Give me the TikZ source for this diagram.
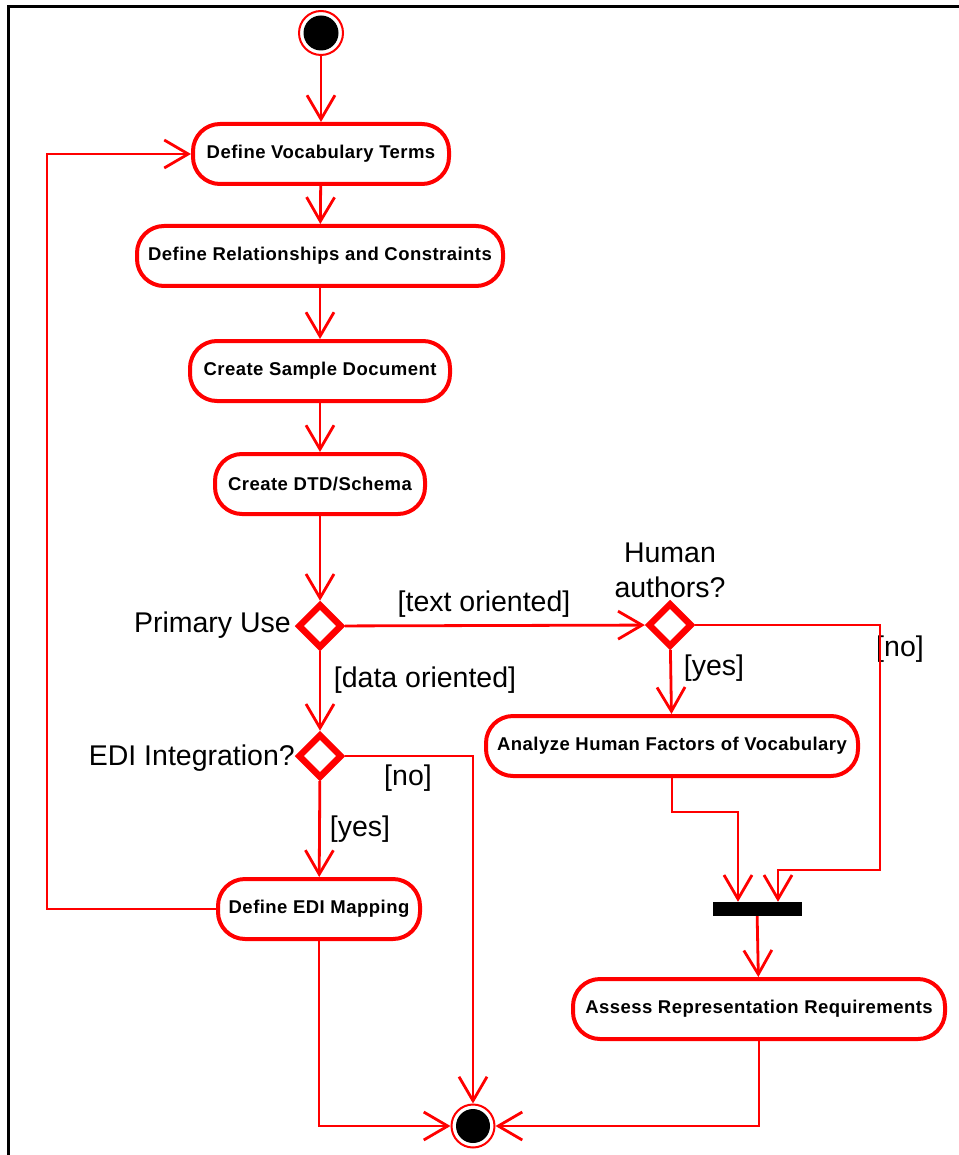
\documentclass[tikz,border=0pt]{standalone}
\usepackage{fontspec}
\setmainfont{Liberation Sans}
\newfontfamily\actfont[LetterSpace=2.5]{Liberation Sans}
\usetikzlibrary{arrows.meta,shapes.geometric,calc}
\definecolor{umlred}{RGB}{255,0,0}
\tikzset{
  action/.style={draw=umlred, line width=4pt, rounded corners=27pt, fill=white,
    inner sep=0pt, minimum height=60pt, font=\actfont\bfseries\fontsize{18.5}{21}\selectfont},
  decision/.style={diamond, draw=umlred, line width=6.5pt, fill=white, inner sep=0pt,
    minimum width=44pt, minimum height=44pt},
  conn/.style={draw=umlred, line width=2.8pt},
  arr/.style={conn, -{Straight Barb[length=24pt,width=28pt,line width=2.8pt]}},
  lbl/.style={font=\fontsize{28.5}{35}\selectfont, inner sep=0pt},
}
\begin{document}
\begin{tikzpicture}[x=1pt,y=-1pt]
\useasboundingbox (0,0) rectangle (958,1155);
\draw[black, line width=3pt] (8,1160) -- (8,7) -- (965,7);

% start
\node[circle, draw=umlred, line width=2pt, fill=white, minimum size=44pt, inner sep=0pt] (startring) at (321,33) {};
\node[circle, fill=black, minimum size=35pt, inner sep=0pt] (start) at (321,33) {};

% actions
\node[action, minimum width=256pt] (vocab) at (321,154) {Define Vocabulary Terms};
\node[action, minimum width=366pt] (rel) at (320,256) {Define Relationships and Constraints};
\node[action, minimum width=260pt] (sample) at (320,371) {Create Sample Document};
\node[action, minimum width=210pt] (dtd) at (320,484) {Create DTD/Schema};
\node[action, minimum width=372pt] (analyze) at (672,746) {Analyze Human Factors of Vocabulary};
\node[action, minimum width=202pt] (edi) at (319,909) {Define EDI Mapping};
\node[action, minimum width=372pt] (assess) at (759,1009) {Assess Representation Requirements};

% decisions
\node[decision] (d1) at (320,626) {};
\node[decision] (d2) at (670,625) {};
\node[decision] (d3) at (320,756) {};

% fork/join bar
\node[fill=black, minimum width=89pt, minimum height=14pt, inner sep=0pt] (bar) at (757,909) {};

% end
\node[circle, draw=umlred, line width=2pt, fill=white, minimum size=43pt, inner sep=0pt] (endring) at (473,1126) {};
\node[circle, fill=black, minimum size=34pt, inner sep=0pt] (end) at (473,1126) {};

% labels
\node[lbl, anchor=east] (lPrimary) at (291,625) {Primary Use};
\node[lbl, anchor=east] (lEDI) at (295,758) {EDI Integration?};
\node[lbl, align=center] (lHuman) at (670,570) {Human\\authors?};
\node[lbl] (lText) at (484,604) {[text oriented]};
\node[lbl] (lNo1) at (900,649) {[no]};
\node[lbl] (lYes1) at (714,668) {[yes]};
\node[lbl] (lData) at (425,680) {[data oriented]};
\node[lbl] (lNo2) at (408,778) {[no]};
\node[lbl] (lYes2) at (360,829) {[yes]};

% connectors
\draw[arr] (startring) -- (vocab);
\draw[arr] (vocab) -- (rel);
\draw[arr] (rel) -- (sample);
\draw[arr] (sample) -- (dtd);
\draw[arr] (dtd) -- (d1);
\draw[arr] (d1) -- (d2);
\coordinate (nBend) at (880,870);
\draw[arr] (d2.east) -| (nBend) -| ([xshift=21pt]bar.north);
\draw[arr] (d2) -- (analyze);
\draw[arr] (analyze.south) -- ++(0,34) -| ([xshift=-19pt]bar.north);
\draw[arr] (bar) -- (assess);
\draw[arr] (assess.south) |- (endring);
\draw[arr] (d1) -- (d3);
\draw[arr] (d3.east) -| (endring);
\draw[arr] (d3) -- (edi);
\coordinate (loopL) at (47,909);
\draw[arr] (edi.west) -- (loopL) |- (vocab.west);
\draw[arr] (edi.south) |- (endring);
\end{tikzpicture}
\end{document}
